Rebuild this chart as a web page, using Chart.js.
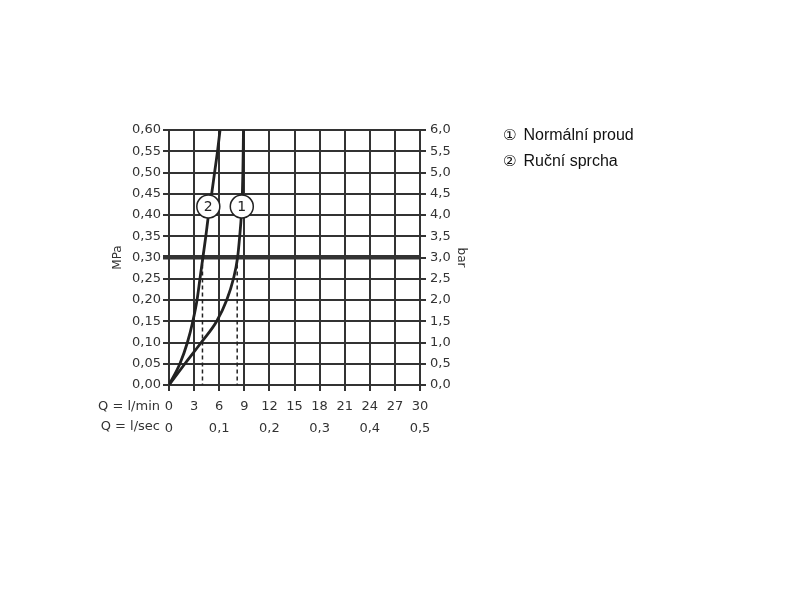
<!DOCTYPE html>
<html>
<head>
<meta charset="utf-8">
<script src="https://cdn.jsdelivr.net/npm/chart.js@4/dist/chart.umd.min.js"></script>
<style>
  body { margin: 0; background: #fff; }
  #wrap { position: relative; width: 800px; height: 600px; }
  .legend { position: absolute; left: 503px; font: 16px "Liberation Sans", Arial, sans-serif; color: #111; }
  .legend .num { font-family: "DejaVu Sans", sans-serif; font-size: 15px; margin-right: 7px; }
</style>
</head>
<body>
<div id="wrap">
  <canvas id="chart" width="800" height="600"></canvas>
  <div class="legend" style="top:126px"><span class="num">①</span>Normální proud</div>
  <div class="legend" style="top:152px"><span class="num">②</span>Ruční sprcha</div>
</div>
<script>
// flow Q in l/min vs pressure in MPa
const curve1Flow = [0, 1.9, 3.85, 5.7, 6.9, 7.7, 8.2, 8.45, 8.65, 8.77, 8.83, 8.87, 8.9];
const curve1Mpa  = [0, 0.05, 0.10, 0.15, 0.20, 0.25, 0.30, 0.35, 0.40, 0.45, 0.50, 0.55, 0.60];
const curve2Flow = [0, 1.3, 2.2, 2.85, 3.35, 3.7, 4.05, 4.4, 4.72, 5.1, 5.45, 5.8, 6.1];
const curve2Mpa  = [0, 0.05, 0.10, 0.15, 0.20, 0.25, 0.30, 0.35, 0.40, 0.45, 0.50, 0.55, 0.60];
const dashFlow = [4.0, 8.15];
const dashMpa = [0.30, 0];
const markerFlow = [8.7, 4.7];
const markerMpa = [0.42, 0.42];
const markerText = ['1', '2'];
const refPressure = 0.30;

const ink = '#222';
const gridInk = '#333';
const tickFont = { family: '"DejaVu Sans", sans-serif', size: 13 };

const comma = (v, d) => v.toFixed(d).replace('.', ',');
const pts = (xs, ys) => xs.map((x, i) => ({ x, y: ys[i] }));

const dashSets = dashFlow.map(f => ({
  data: pts([f, f], dashMpa),
  showLine: true, borderColor: ink, borderWidth: 1.5, borderDash: [4, 3],
  pointRadius: 0
}));

const markerLabels = {
  id: 'markerLabels',
  afterDatasetsDraw(chart) {
    const ctx = chart.ctx;
    const meta = chart.getDatasetMeta(chart.data.datasets.length - 1);
    ctx.save();
    ctx.fillStyle = ink;
    ctx.font = '14px "DejaVu Sans", sans-serif';
    ctx.textAlign = 'center';
    ctx.textBaseline = 'middle';
    meta.data.forEach((p, i) => ctx.fillText(markerText[i], p.x, p.y + 1));
    ctx.restore();
  },
  afterDraw(chart) {
    const ctx = chart.ctx;
    const a = chart.chartArea;
    ctx.save();
    ctx.fillStyle = gridInk;
    ctx.font = '13px "DejaVu Sans", sans-serif';
    ctx.textAlign = 'right';
    ctx.textBaseline = 'middle';
    ctx.fillText('Q = l/min', a.left - 9, a.bottom + 22);
    ctx.fillText('Q = l/sec', a.left - 9, a.bottom + 42);
    ctx.restore();
  }
};

new Chart(document.getElementById('chart'), {
  type: 'scatter',
  data: {
    datasets: [
      { data: pts(curve1Flow, curve1Mpa), showLine: true, borderColor: ink, borderWidth: 2.8, cubicInterpolationMode: 'monotone', pointRadius: 0 },
      { data: pts(curve2Flow, curve2Mpa), showLine: true, borderColor: ink, borderWidth: 2.8, cubicInterpolationMode: 'monotone', pointRadius: 0 },
      ...dashSets,
      { data: pts(markerFlow, markerMpa), order: -1, pointRadius: 11.5, pointHoverRadius: 11.5, backgroundColor: '#fff', borderColor: ink, borderWidth: 1.5 }
    ]
  },
  options: {
    responsive: false,
    animation: false,
    layout: { padding: { left: 109, right: 330, top: 130, bottom: 0 } },
    plugins: { legend: { display: false }, tooltip: { enabled: false } },
    scales: {
      x: {
        type: 'linear', position: 'bottom', min: 0, max: 30,
        afterFit: s => { s.height = 25; },
        ticks: { stepSize: 3, color: gridInk, font: tickFont, padding: 8, maxRotation: 0, autoSkip: false },
        grid: { color: gridInk, lineWidth: 2, tickLength: 6 },
        border: { color: gridInk, width: 2 }
      },
      xs: {
        type: 'linear', position: 'bottom', min: 0, max: 30,
        afterFit: s => { s.height = 190; },
        ticks: { stepSize: 6, color: gridInk, font: tickFont, padding: 3, maxRotation: 0, autoSkip: false,
          callback: v => v === 0 ? '0' : comma(v / 60, 1) },
        grid: { display: false },
        border: { display: false }
      },
      y: {
        type: 'linear', position: 'left', min: 0, max: 0.6,
        afterFit: s => { s.width = 60; },
        ticks: { stepSize: 0.05, color: gridInk, font: tickFont, padding: 2, autoSkip: false,
          callback: v => comma(v, 2) },
        grid: { color: gridInk, tickLength: 6,
          lineWidth: c => Math.abs(c.tick.value - refPressure) < 1e-6 ? 4.5 : 2 },
        border: { color: gridInk, width: 2 },
        title: { display: true, text: 'MPa', color: gridInk, font: { family: '"DejaVu Sans", sans-serif', size: 12 }, padding: { top: 2, bottom: 4 } }
      },
      bar: {
        type: 'linear', position: 'right', min: 0, max: 6,
        afterFit: s => { s.width = 50; },
        ticks: { stepSize: 0.5, color: gridInk, font: tickFont, padding: 4, autoSkip: false,
          callback: v => comma(v, 1) },
        grid: { drawOnChartArea: false, color: gridInk, lineWidth: 2, tickLength: 6 },
        border: { color: gridInk, width: 2 },
        title: { display: true, text: 'bar', color: gridInk, font: { family: '"DejaVu Sans", sans-serif', size: 12 }, padding: { top: 2, bottom: 4 } }
      }
    }
  },
  plugins: [markerLabels]
});
</script>
</body>
</html>
